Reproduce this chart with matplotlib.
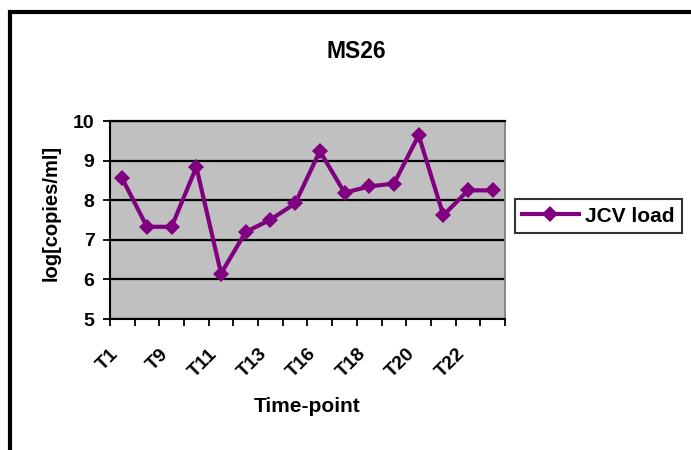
import matplotlib.pyplot as plt
from matplotlib.patches import Rectangle
from matplotlib.transforms import ScaledTranslation

plt.rcParams['font.family'] = ['Liberation Sans', 'DejaVu Sans']
plt.rcParams['font.weight'] = 'bold'

# 16 time points, only every second label is shown on the axis
timepoints = ["T1", "T8", "T9", "T10", "T11", "T12", "T13", "T15",
              "T16", "T17", "T18", "T19", "T20", "T21", "T22", "T23"]
jcv_load = [8.55, 7.33, 7.33, 8.84, 6.15, 7.2, 7.51, 7.92,
            9.24, 8.19, 8.35, 8.42, 9.64, 7.62, 8.25, 8.25]

fig = plt.figure(figsize=(6.91, 4.5), dpi=100)
ax = fig.add_axes([0.159, 0.291, 0.572, 0.44])
ax.set_facecolor('#c0c0c0')

x = list(range(len(timepoints)))
ax.plot(x, jcv_load, color='#800080', lw=3, marker='D', ms=8.5, mew=0,
        label='JCV load', zorder=3)

ax.set_xlim(-0.5, len(timepoints) - 0.5)
ax.set_ylim(5, 10)
ax.set_yticks([5, 6, 7, 8, 9, 10])
ax.yaxis.grid(True, color='black', lw=1.6)
ax.set_axisbelow(True)

ax.set_xticks(x[::2])
ax.set_xticklabels(timepoints[::2], rotation=45, ha='right',
                   rotation_mode='anchor', fontsize=14, fontweight='bold')
ax.set_xticks([i - 0.5 for i in range(len(timepoints) + 1)], minor=True)
ax.tick_params(axis='x', which='major', length=0, pad=19)
ax.tick_params(axis='x', which='minor', length=5, width=1.3, direction='out')
ax.tick_params(axis='y', length=5, width=1.3, direction='out',
               labelsize=14, pad=6)
for lab in ax.get_yticklabels():
    lab.set_fontweight('bold')
shift = ScaledTranslation(-0.12, 0, fig.dpi_scale_trans)
for lab in ax.get_xticklabels():
    lab.set_transform(lab.get_transform() + shift)

for s in ['left', 'bottom']:
    ax.spines[s].set_color('black')
    ax.spines[s].set_linewidth(1.5)
ax.spines['right'].set_color('#808080')
ax.spines['right'].set_linewidth(1.3)
ax.spines['top'].set_color('black')
ax.spines['top'].set_linewidth(1.6)

fig.text(356 / 691, 1 - 51 / 450, 'MS26', fontsize=16.5, fontweight='bold',
         ha='center', va='center')
fig.text(307 / 691, 1 - 407 / 450, 'Time-point', fontsize=15, fontweight='bold',
         ha='center', va='center')
fig.text(51 / 691, 1 - 213 / 450, 'log[copies/ml]', fontsize=14.5,
         fontweight='bold', ha='center', va='center', rotation=90)

leg = ax.legend(loc='center left', bbox_to_anchor=(515 / 691, 1 - 216 / 450),
                bbox_transform=fig.transFigure, frameon=True, fancybox=False,
                prop={'weight': 'bold', 'size': 15}, handlelength=2.7,
                borderpad=0.35, borderaxespad=0, handletextpad=0.3)
leg.get_frame().set_edgecolor('black')
leg.get_frame().set_linewidth(1.5)

# outer chart frame (cut off at right and bottom)
fig.patches.append(Rectangle((0.0145, -0.05), 1.1, 1.024, transform=fig.transFigure,
                             fill=False, edgecolor='black', lw=3))

fig.savefig('out.png', dpi=100)
